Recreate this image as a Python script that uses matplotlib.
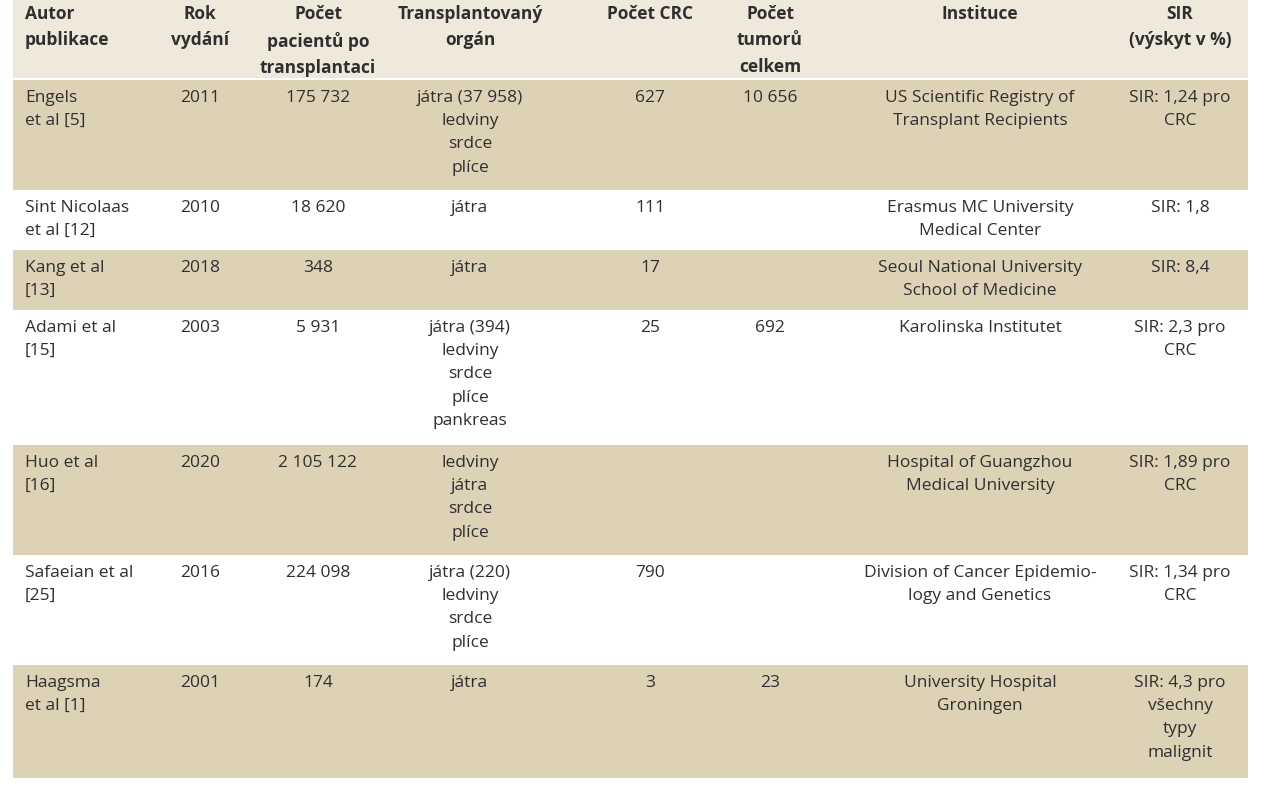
import matplotlib.pyplot as plt
from matplotlib.patches import Rectangle

headers = ["Autor\npublikace", "Rok\nvydání", "Počet\npacientů po\ntransplantaci",
           "Transplantovaný\norgán", "Počet CRC", "Počet\ntumorů\ncelkem", "Instituce",
           "SIR\n(výskyt v %)"]
autori = ["Engels\net al [5]", "Sint Nicolaas\net al [12]", "Kang et al\n[13]", "Adami et al\n[15]",
          "Huo et al\n[16]", "Safaeian et al\n[25]", "Haagsma\net al [1]"]
roky = ["2011", "2010", "2018", "2003", "2020", "2016", "2001"]
pacienti = ["175 732", "18 620", "348", "5 931", "2 105 122", "224 098", "174"]
organy = ["játra (37 958)\nledviny\nsrdce\nplíce", "játra", "játra",
          "játra (394)\nledviny\nsrdce\nplíce\npankreas", "ledviny\njátra\nsrdce\nplíce",
          "játra (220)\nledviny\nsrdce\nplíce", "játra"]
crc = ["627", "111", "17", "25", "", "790", "3"]
tumory = ["10 656", "", "", "692", "", "", "23"]
instituce = ["US Scientific Registry of\nTransplant Recipients", "Erasmus MC University\nMedical Center",
             "Seoul National University\nSchool of Medicine", "Karolinska Institutet",
             "Hospital of Guangzhou\nMedical University", "Division of Cancer Epidemio-\nlogy and Genetics",
             "University Hospital\nGroningen"]
sir = ["SIR: 1,24 pro\nCRC", "SIR: 1,8", "SIR: 8,4", "SIR: 2,3 pro\nCRC", "SIR: 1,89 pro\nCRC",
       "SIR: 1,34 pro\nCRC", "SIR: 4,3 pro\nvšechny\ntypy\nmalignit"]

row_tops = [80, 190, 250, 310, 445, 555, 665, 778]
col_x = [25, 200, 318, 470, 650, 770, 980, 1180]
col_ha = ["left"] + ["center"] * 7

fig = plt.figure(figsize=(12.82, 8), dpi=100)
ax = fig.add_axes([0, 0, 1, 1])
ax.set_xlim(0, 1282)
ax.set_ylim(800, 0)
ax.axis("off")

txt = dict(fontfamily="Open Sans", fontsize=12.5, color="#2f2f2f", linespacing=1.6, va="top")

ax.add_patch(Rectangle((13, 0), 1235, 78, color="#efe9db", lw=0))
for c, h in enumerate(headers):
    ax.text(col_x[c], 5, h, ha=col_ha[c], fontweight="bold", **txt)

cols = [autori, roky, pacienti, organy, crc, tumory, instituce, sir]
for r in range(len(autori)):
    top, bot = row_tops[r], row_tops[r + 1]
    ax.add_patch(Rectangle((13, top), 1235, bot - top,
                           color="#ddd2b6" if r % 2 == 0 else "#ffffff", lw=0))
    for c, col in enumerate(cols):
        ax.text(col_x[c], top + 10, col[r], ha=col_ha[c], **txt)

fig.savefig("out.png", dpi=100)
